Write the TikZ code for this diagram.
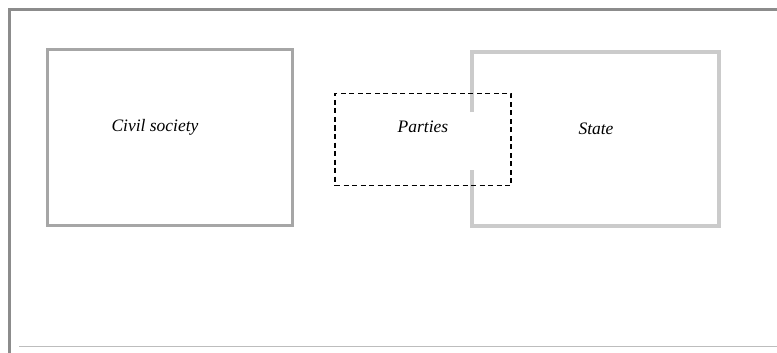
\documentclass[tikz,border=0pt]{standalone}
\usepackage{fontspec}
\setmainfont{Liberation Serif}
\usetikzlibrary{positioning,calc}

\definecolor{framegray}{HTML}{8C8C8C}
\definecolor{rulegray}{HTML}{BDBDBD}
\definecolor{civilgray}{HTML}{A6A6A6}
\definecolor{stategray}{HTML}{CBCBCB}

\begin{document}
\begin{tikzpicture}[
x=1pt,y=-1pt,
box/.style={minimum width=#1,inner sep=0pt,outer sep=0pt},
label text/.style={font=\fontsize{17.5}{20}\selectfont\itshape,inner sep=0pt},
partybox/.style={draw,dash pattern=on 5pt off 3.5pt,line width=1.2pt}]
\useasboundingbox (0,0) rectangle (777,353);
% page frame
\draw[framegray,line width=3pt] (9.5,353) -- (9.5,9.5) -- (777,9.5);
\draw[rulegray,line width=1pt] (19,346) -- (777,346);
% the three boxes
\node[box=245.5pt,minimum height=175.5pt,draw=civilgray,line width=3pt] (civil) at (170,137.5) {};
\node[box=247pt,minimum height=174pt] (state) at (595.5,139) {};
\draw[stategray,line width=4pt] ($(state.north west)+(0,60)$) -- (state.north west) -- (state.north east)
  -- (state.south east) -- (state.south west) -- ($(state.south west)+(0,-56)$);
\node[box=176pt,minimum height=92pt,partybox] (parties) at (423,139.5) {};
% labels
\node[label text] (civiltxt) at (155,127) {Civil society};
\node[label text] (partiestxt) at (423,127) {Parties};
\node[label text] (statetxt) at (596,129) {State};
\end{tikzpicture}
\end{document}
